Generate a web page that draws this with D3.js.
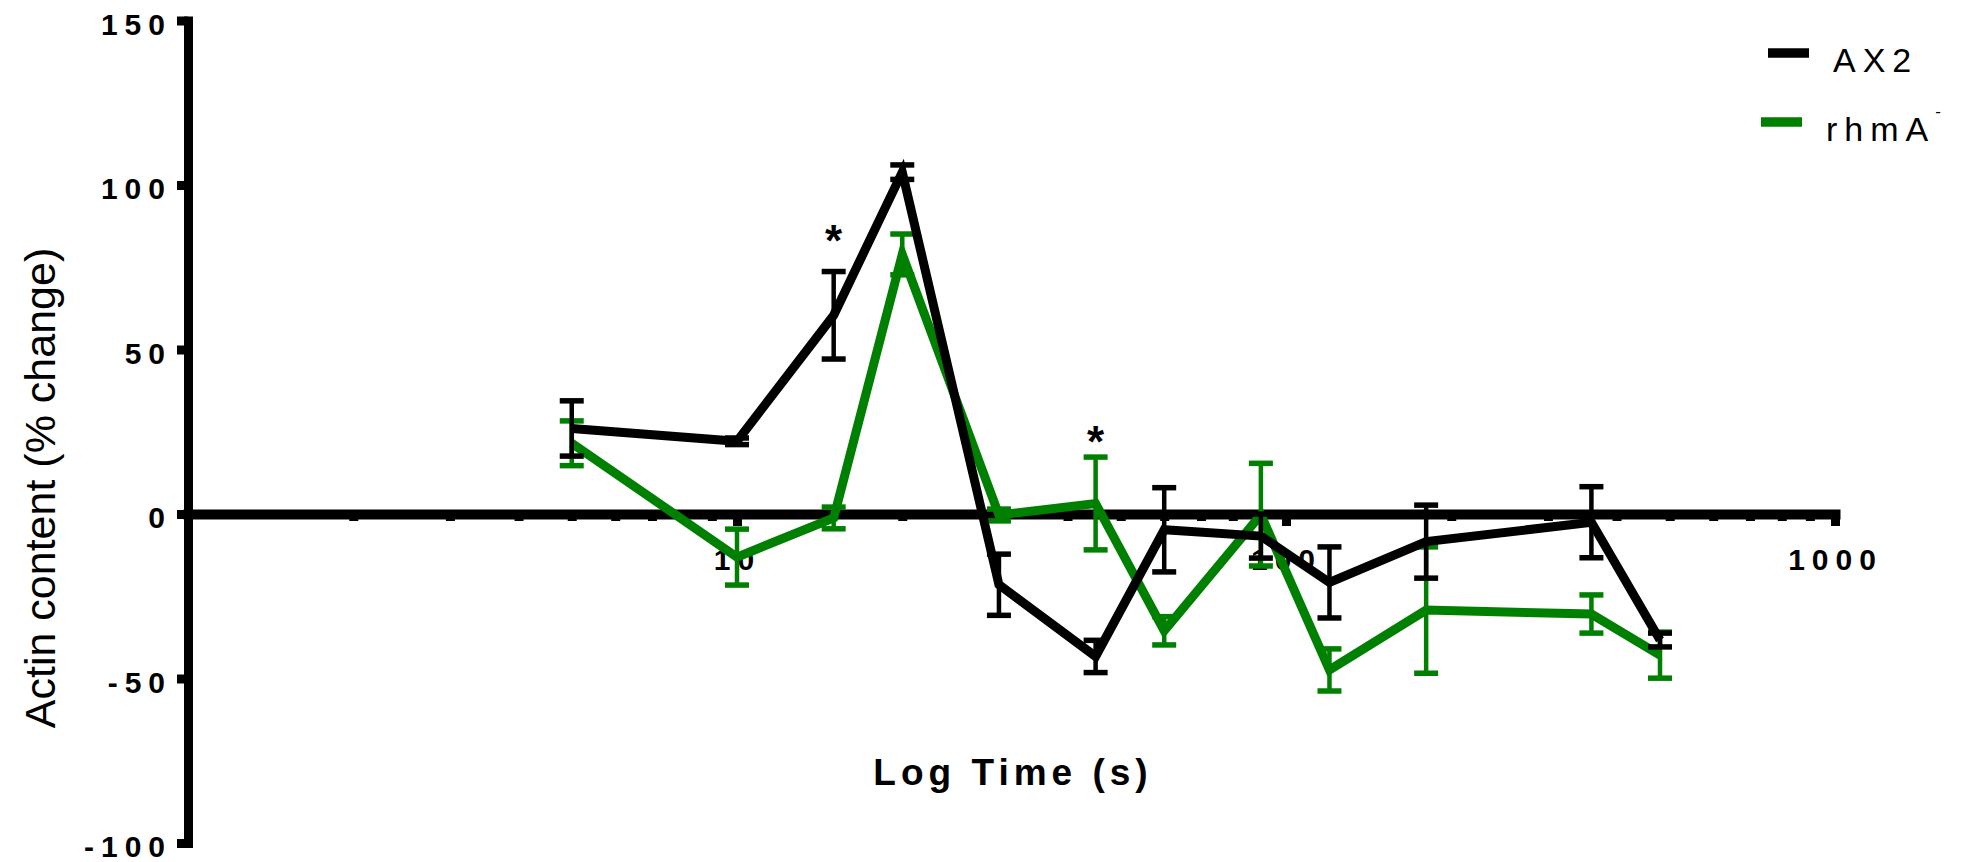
<!DOCTYPE html>
<html>
<head>
<meta charset="utf-8">
<script src="https://cdn.jsdelivr.net/npm/d3@7/dist/d3.min.js"></script>
<style>
  body { margin: 0; background: #fff; }
  svg text { font-family: "Liberation Sans", Arial, sans-serif; }
</style>
</head>
<body>
<svg id="chart" width="1967" height="862"></svg>
<script>

// time points (s)
var times = [5, 10, 15, 20, 30, 45, 60, 90, 120, 180, 360, 480];

// AX2 (black)
var ax2Mean = [26.0, 22.1, 60.4, 103.9, -21.5, -43.3, -4.8, -6.7, -20.8, -8.4, -2.5, -38.3];
var ax2Err  = [8.4, 1.0, 13.3, 2.2, 9.3, 4.9, 12.8, 6.7, 10.8, 11.1, 10.8, 2.1];

// rhmA- (green)
var rhmaMean = [21.5, -13.1, -1.2, 78.9, -0.3, 3.2, -35.5, -0.2, -47.4, -29.2, -30.4, -42.9];
var rhmaErr  = [6.8, 8.5, 3.3, 6.2, 1.8, 14.1, 4.3, 15.6, 6.4, 19.2, 5.8, 7.0];

var yTicks = [-100, -50, 0, 50, 100, 150];
var xMajor = [10, 100, 1000];
var xMinor = [2, 3, 4, 5, 6, 7, 8, 9, 20, 30, 40, 50, 60, 70, 80, 90, 200, 300, 400, 500, 600, 700, 800, 900];

// significance marks
var stars = [
  { t: 15, v: 86 },
  { t: 45, v: 25 }
];

var legendLabels = ['AX2', 'rhmA'];

var series = [
  { name: 'rhmA', color: '#008000', mean: rhmaMean, err: rhmaErr },
  { name: 'AX2', color: '#000000', mean: ax2Mean, err: ax2Err }
];

var svg = d3.select('#chart');

var x = d3.scaleLog().domain([1, 1000]).range([188, 1835]);
var y = d3.scaleLinear().domain([-100, 150]).range([843, 20.5]);

// Y axis

var yAxis = d3.axisLeft(y)
  .tickValues(yTicks)
  .tickSize(11)
  .tickSizeOuter(0)
  .tickPadding(5)
  .tickFormat(function(d) { return String(d); });

var gy = svg.append('g')
  .attr('transform', 'translate(' + x(1) + ',0)')
  .call(yAxis);

gy.select('.domain')
  .attr('stroke-width', 9)
  .attr('stroke-linecap', 'square');

gy.selectAll('.tick line')
  .attr('stroke-width', 9);

gy.selectAll('.tick text')
  .attr('dy', 13.5)
  .style('font-size', '30px')
  .style('font-weight', 'bold')
  .style('letter-spacing', '7px')
  .attr('fill', '#000');

// X axis (log), drawn through zero

var xAxis = d3.axisBottom(x)
  .tickValues(xMinor.concat(xMajor))
  .tickSize(7)
  .tickSizeOuter(0)
  .tickFormat(function(d) { return xMajor.indexOf(d) >= 0 ? d : ''; });

var gx = svg.append('g')
  .attr('transform', 'translate(0,' + y(0) + ')')
  .call(xAxis);

gx.select('.domain')
  .attr('stroke-width', 10)
  .attr('stroke-linecap', 'square');

gx.selectAll('.tick line')
  .attr('stroke-width', 9)
  .attr('y2', function(d) { return xMajor.indexOf(d) >= 0 ? 12 : 7; });

gx.selectAll('.tick text')
  .attr('y', 56)
  .attr('dy', 0)
  .style('font-size', '30px')
  .style('font-weight', 'bold')
  .style('letter-spacing', '7px')
  .attr('fill', '#000');

// axis titles

svg.append('text')
  .attr('x', 1013)
  .attr('y', 785)
  .attr('text-anchor', 'middle')
  .style('font-size', '37px')
  .style('font-weight', 'bold')
  .style('letter-spacing', '5px')
  .text('Log Time (s)');

svg.append('text')
  .attr('transform', 'translate(55,488) rotate(-90)')
  .attr('text-anchor', 'middle')
  .style('font-size', '43px')
  .text('Actin content (% change)');

// series

var line = d3.line()
  .x(function(d) { return x(d.t); })
  .y(function(d) { return y(d.m); });

series.forEach(function(s) {
  var pts = times.map(function(t, i) {
    return { t: t, m: s.mean[i], e: s.err[i] };
  });

  var g = svg.append('g').attr('class', 'series');

  g.append('path')
    .datum(pts)
    .attr('fill', 'none')
    .attr('stroke', s.color)
    .attr('stroke-width', 9)
    .attr('d', line);

  var bars = g.selectAll('.errbar')
    .data(pts)
    .enter()
    .append('g')
    .attr('class', 'errbar')
    .attr('stroke', s.color);

  bars.append('line')
    .attr('stroke-width', 4.5)
    .attr('x1', function(d) { return x(d.t); })
    .attr('x2', function(d) { return x(d.t); })
    .attr('y1', function(d) { return y(d.m + d.e); })
    .attr('y2', function(d) { return y(d.m - d.e); });

  [1, -1].forEach(function(sign) {
    bars.append('line')
      .attr('stroke-width', 5.5)
      .attr('x1', function(d) { return x(d.t) - 12; })
      .attr('x2', function(d) { return x(d.t) + 12; })
      .attr('y1', function(d) { return y(d.m + sign * d.e); })
      .attr('y2', function(d) { return y(d.m + sign * d.e); });
  });
});

// asterisks

svg.selectAll('.star')
  .data(stars)
  .enter()
  .append('text')
  .attr('class', 'star')
  .attr('x', function(d) { return x(d.t); })
  .attr('y', function(d) { return y(d.v) + 25; })
  .attr('text-anchor', 'middle')
  .style('font-size', '44px')
  .style('font-weight', 'bold')
  .text('*');

// legend

var legendColors = ['#000000', '#008000'];

var legend = svg.selectAll('.legend')
  .data(legendLabels)
  .enter()
  .append('g')
  .attr('class', 'legend')
  .attr('transform', function(d, i) { return 'translate(' + (1768 - 7 * i) + ',' + (53 + 69 * i) + ')'; });

legend.append('line')
  .attr('x1', 0)
  .attr('x2', 41)
  .attr('stroke', function(d, i) { return legendColors[i]; })
  .attr('stroke-width', 9.5);

var ltext = legend.append('text')
  .attr('x', 65)
  .attr('y', 18.5)
  .style('font-size', '34px')
  .style('letter-spacing', '7px')
  .text(function(d) { return d; });

ltext.filter(function(d) { return d === 'rhmA'; })
  .append('tspan')
  .attr('dy', -24)
  .style('font-size', '17px')
  .text('-');

</script>
</body>
</html>
